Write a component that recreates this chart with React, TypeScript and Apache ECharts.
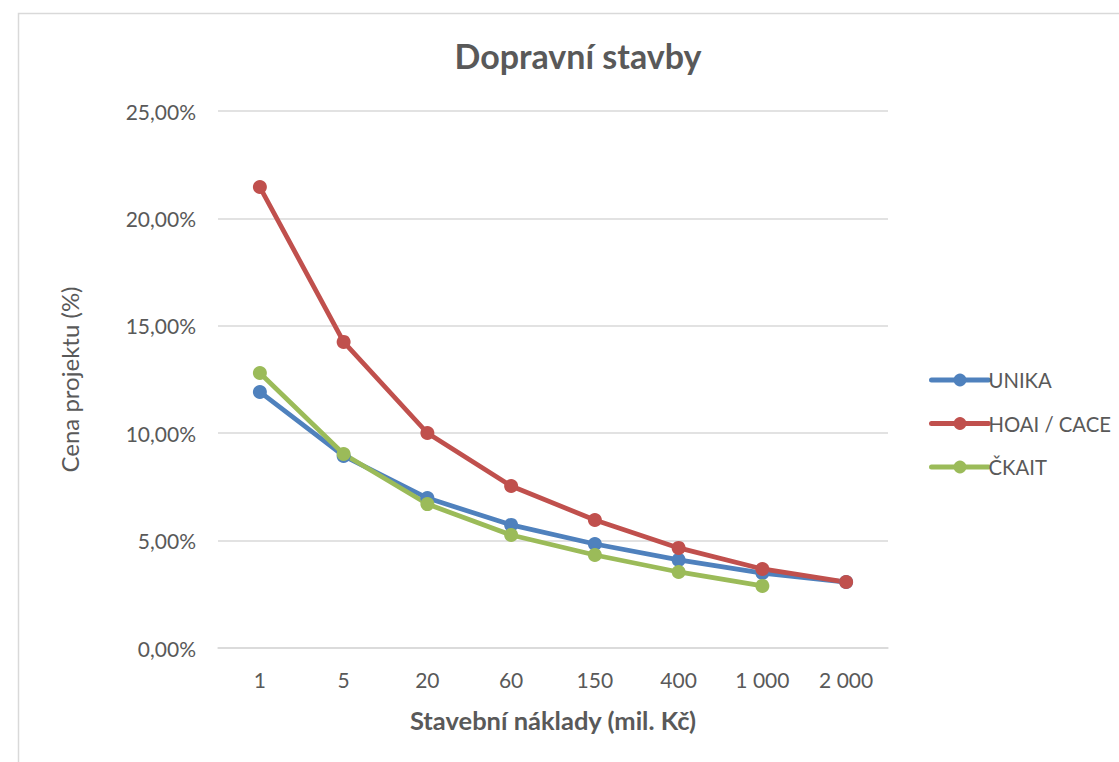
import React, { useEffect, useRef } from "react";
import * as echarts from "echarts";

const categories = ["1", "5", "20", "60", "150", "400", "1 000", "2 000"];
const unika = [11.92, 8.94, 6.98, 5.73, 4.84, 4.10, 3.49, 3.07];
const hoai = [21.46, 14.25, 10.01, 7.54, 5.96, 4.66, 3.68, 3.07];
const ckait = [12.8, 9.03, 6.7, 5.26, 4.33, 3.54, 2.89, null];
const yTicks = [0, 5, 10, 15, 20, 25];

const FONT = "Lato, 'Open Sans', sans-serif";
const GRAY = "#595959";

export default function App() {
  const ref = useRef<HTMLDivElement>(null);
  useEffect(() => {
    document.body.style.margin = "0";
    const chart = echarts.init(ref.current!, null, { renderer: "svg" });
    const mk = (name: string, data: (number | null)[], color: string) => ({
      name,
      type: "line",
      data,
      symbol: "circle",
      symbolSize: 14,
      lineStyle: { width: 4.75, color, cap: "round", join: "round" },
      itemStyle: { color },
      connectNulls: false,
    });
    chart.setOption({
      animation: false,
      backgroundColor: "#ffffff",
      textStyle: { fontFamily: FONT },
      title: {
        text: "Dopravní stavby",
        left: 578,
        textAlign: "center",
        top: 38,
        padding: 0,
        textStyle: { fontFamily: FONT, fontSize: 34, fontWeight: "bold", color: GRAY },
      },
      graphic: [
        {
          type: "rect",
          shape: { x: 18.5, y: 13.5, width: 1200, height: 800 },
          style: { fill: "none", stroke: "#d9d9d9", lineWidth: 1.5 },
          silent: true,
          z: -1,
        },
      ],
      legend: {
        orient: "vertical",
        left: 929,
        top: 370,
        itemWidth: 57,
        itemHeight: 16,
        itemGap: 23.5,
        padding: 0,
        lineStyle: { width: 5 },
        textStyle: { fontFamily: FONT, fontSize: 20.3, lineHeight: 20, color: GRAY, padding: [0, 0, 0, -5] },
        data: ["UNIKA", "HOAI / CACE", "ČKAIT"],
      },
      grid: { left: 218, right: 231, top: 111, bottom: 114, containLabel: false },
      xAxis: {
        type: "category",
        data: categories,
        boundaryGap: true,
        name: "Stavební náklady (mil. Kč)",
        nameLocation: "middle",
        nameGap: 59,
        nameTextStyle: { fontFamily: FONT, fontSize: 25.5, fontWeight: "bold", color: GRAY },
        axisLine: { lineStyle: { color: "#d9d9d9", width: 1.5 } },
        axisTick: { show: false },
        axisLabel: { fontFamily: FONT, fontSize: 21, color: GRAY, margin: 21 },
      },
      yAxis: {
        type: "value",
        min: yTicks[0],
        max: yTicks[yTicks.length - 1],
        interval: 5,
        name: "Cena projektu (%)",
        nameLocation: "middle",
        nameGap: 137,
        nameTextStyle: { fontFamily: FONT, fontSize: 24, color: GRAY },
        axisLine: { show: false },
        axisTick: { show: false },
        splitLine: { lineStyle: { color: "#d9d9d9", width: 1.5 } },
        axisLabel: {
          fontFamily: FONT,
          fontSize: 21,
          color: GRAY,
          margin: 22,
          formatter: (v: number) => v.toFixed(2).replace(".", ",") + "%",
        },
      },
      series: [
        mk("UNIKA", unika, "#4f81bd"),
        mk("HOAI / CACE", hoai, "#c0504d"),
        mk("ČKAIT", ckait, "#9bbb59"),
      ],
    });
    return () => chart.dispose();
  }, []);
  return <div ref={ref} style={{ width: 1119, height: 762 }} />;
}
